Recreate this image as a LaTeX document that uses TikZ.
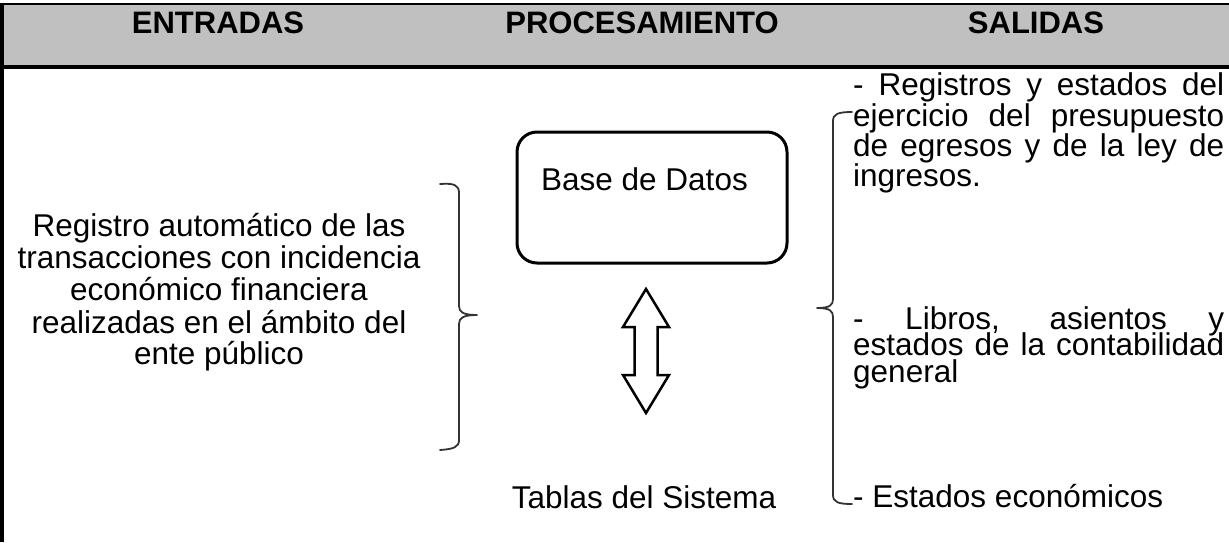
\documentclass[tikz,border=0pt]{standalone}
\usepackage{fontspec}
\setmainfont{Liberation Sans}
\definecolor{hdrgray}{HTML}{C0C0C0}
\definecolor{brk}{HTML}{333333}
\newlength{\colw}
\setlength{\colw}{371pt}
\tikzset{
  hdr/.style={anchor=base, inner sep=0pt, font=\fontsize{31}{31}\selectfont\bfseries},
  txt/.style={anchor=base, inner sep=0pt, font=\fontsize{31.5}{32}\selectfont},
  rtxt/.style={anchor=base west, inner sep=0pt, font=\fontsize{31.5}{32}\selectfont},
  brace/.style={draw=brk, line width=1.8pt, line cap=round, line join=round},
  frame/.style={draw=black, line width=4pt},
}
\begin{document}
\begin{tikzpicture}[x=1pt,y=-1pt]
\useasboundingbox (0,0) rectangle (1229,542);
% header band
\fill[hdrgray] (0,4) rectangle (1229,67);
\draw[black, line width=2.6pt] (0,3.8) -- (1229,3.8);
\draw[frame] (0,67) -- (1229,67);
\draw[frame] (2,2.5) -- (2,542);
\node[hdr] (hE) at (218,33) {ENTRADAS};
\node[hdr] (hP) at (642,33) {PROCESAMIENTO};
\node[hdr] (hS) at (1036,33) {SALIDAS};
% left text
\node[txt] (l1) at (219,236) {Registro automático de las};
\node[txt] (l2) at (219,268) {transacciones con incidencia};
\node[txt] (l3) at (219,300) {económico financiera};
\node[txt] (l4) at (219,333) {realizadas en el ámbito del};
\node[txt] (l5) at (219,364) {ente público};
% left brace
\draw[brace] (440,184) .. controls (454,183) and (459,185) .. (459,193)
  -- (459,306) .. controls (459,312) and (463,315) .. (477,315)
  .. controls (463,315) and (459,318) .. (459,324)
  -- (459,440) .. controls (459,447) and (454,449) .. (440,450);
% database box
\node[draw=black, line width=3pt, rounded corners=20pt, minimum width=270pt,
      minimum height=131pt, inner sep=0pt] (db) at (652,197.5) {};
\node[txt] (dbt) at (644.5,190) {Base de Datos};
% double arrow
\draw[black, line width=2.5pt, line join=miter, fill=white]
  (646,289) -- (669,327) -- (657.5,327) -- (657.5,375) -- (669,375) -- (646,413)
  -- (623,375) -- (634.5,375) -- (634.5,327) -- (623,327) -- cycle;
\node[txt] (tab) at (644,508) {Tablas del Sistema};
% right brace
\draw[brace] (852,112) .. controls (838,112) and (833,114) .. (833,121)
  -- (833,299) .. controls (833,305) and (830,308) .. (817,308)
  .. controls (830,308) and (833,311) .. (833,317)
  -- (833,495) .. controls (833,502) and (838,504) .. (852,504);
% right text
\node[rtxt] (r1) at (853,95) {\makebox[\colw][s]{- Registros y estados del}};
\node[rtxt] (r2) at (853,126) {\makebox[\colw][s]{ejercicio del presupuesto}};
\node[rtxt] (r3) at (853,156) {\makebox[\colw][s]{de egresos y de la ley de}};
\node[rtxt] (r4) at (853,186) {ingresos.};
\node[rtxt] (r5) at (853,329) {\makebox[\colw][s]{- Libros, asientos y}};
\node[rtxt] (r6) at (853,355) {\makebox[\colw][s]{estados de la contabilidad}};
\node[rtxt] (r7) at (853,382) {general};
\node[rtxt] (r8) at (853,507) {- Estados económicos};
\end{tikzpicture}
\end{document}
